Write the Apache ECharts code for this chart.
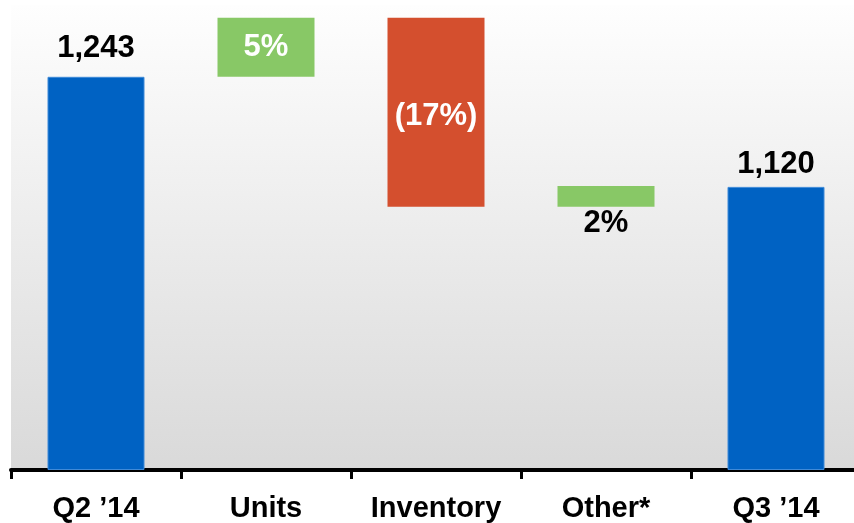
<!DOCTYPE html>
<html>
<head>
<meta charset="utf-8">
<script src="https://cdn.jsdelivr.net/npm/echarts@6/dist/echarts.min.js"></script>
<style>
  html, body { margin: 0; padding: 0; background: #fff; }
  #main { width: 854px; height: 523px; }
</style>
</head>
<body>
<div id="main"></div>
<script>
  // waterfall steps (bar geometry, scaled so Q2 = 1243)
  const categories = ['Q2 \u201914', 'Units', 'Inventory', 'Other*', 'Q3 \u201914'];
  const baseValues = [0, 1243, 832, 832, 0];
  const stepValues = [1243, 187, 598, 66, 895];
  const labelTexts = ['1,243', '5%', '(17%)', '2%', '1,120'];
  const barColors = ['#0062c3', '#88c866', '#d44f2e', '#88c866', '#0062c3'];

  const FONT = '"Liberation Sans", Arial, sans-serif';

  const labelFor = (i) => {
    const common = { show: true, formatter: labelTexts[i], fontFamily: FONT, fontWeight: 'bold', fontSize: 31 };
    if (i === 0) return { ...common, position: 'top', distance: 13, color: '#000' };
    if (i === 4) return { ...common, position: 'top', distance: 7, color: '#000' };
    if (i === 3) return { ...common, position: 'bottom', distance: 1, color: '#000' };
    if (i === 2) return { ...common, position: 'inside', offset: [0, 4], color: '#fff' };
    return { ...common, position: 'inside', color: '#fff' };
  };

  const chart = echarts.init(document.getElementById('main'));
  const option = {
    animation: false,
    grid: {
      left: 11,
      width: 850,
      top: 5,
      bottom: 53,
      outerBoundsMode: 'none',
      containLabel: false,
      show: true,
      borderWidth: 0,
      backgroundColor: new echarts.graphic.LinearGradient(0, 0, 0, 1, [
        { offset: 0, color: '#fefefe' },
        { offset: 1, color: '#d9d9d9' }
      ])
    },
    xAxis: {
      type: 'category',
      data: categories,
      offset: 3,
      axisLine: { lineStyle: { color: '#000', width: 4 } },
      axisTick: { show: true, length: 9, lineStyle: { color: '#000', width: 3 } },
      axisLabel: {
        color: '#000',
        fontFamily: FONT,
        fontWeight: 'bold',
        fontSize: 29,
        margin: 21,
        interval: 0
      }
    },
    yAxis: {
      type: 'value',
      min: 0,
      max: 1470,
      show: false,
      splitLine: { show: false }
    },
    series: [
      {
        name: 'base',
        type: 'bar',
        stack: 'wf',
        barWidth: 97,
        silent: true,
        itemStyle: { color: 'transparent' },
        data: baseValues
      },
      {
        name: 'step',
        type: 'bar',
        stack: 'wf',
        barWidth: 97,
        data: stepValues.map((v, i) => ({
          value: v,
          itemStyle: {
            color: barColors[i],
            borderColor: barColors[i] === '#0062c3' ? '#3f8ad8' : barColors[i],
            borderWidth: barColors[i] === '#0062c3' ? 1 : 0
          },
          label: labelFor(i)
        }))
      }
    ]
  };
  option && chart.setOption(option);
</script>
</body>
</html>
